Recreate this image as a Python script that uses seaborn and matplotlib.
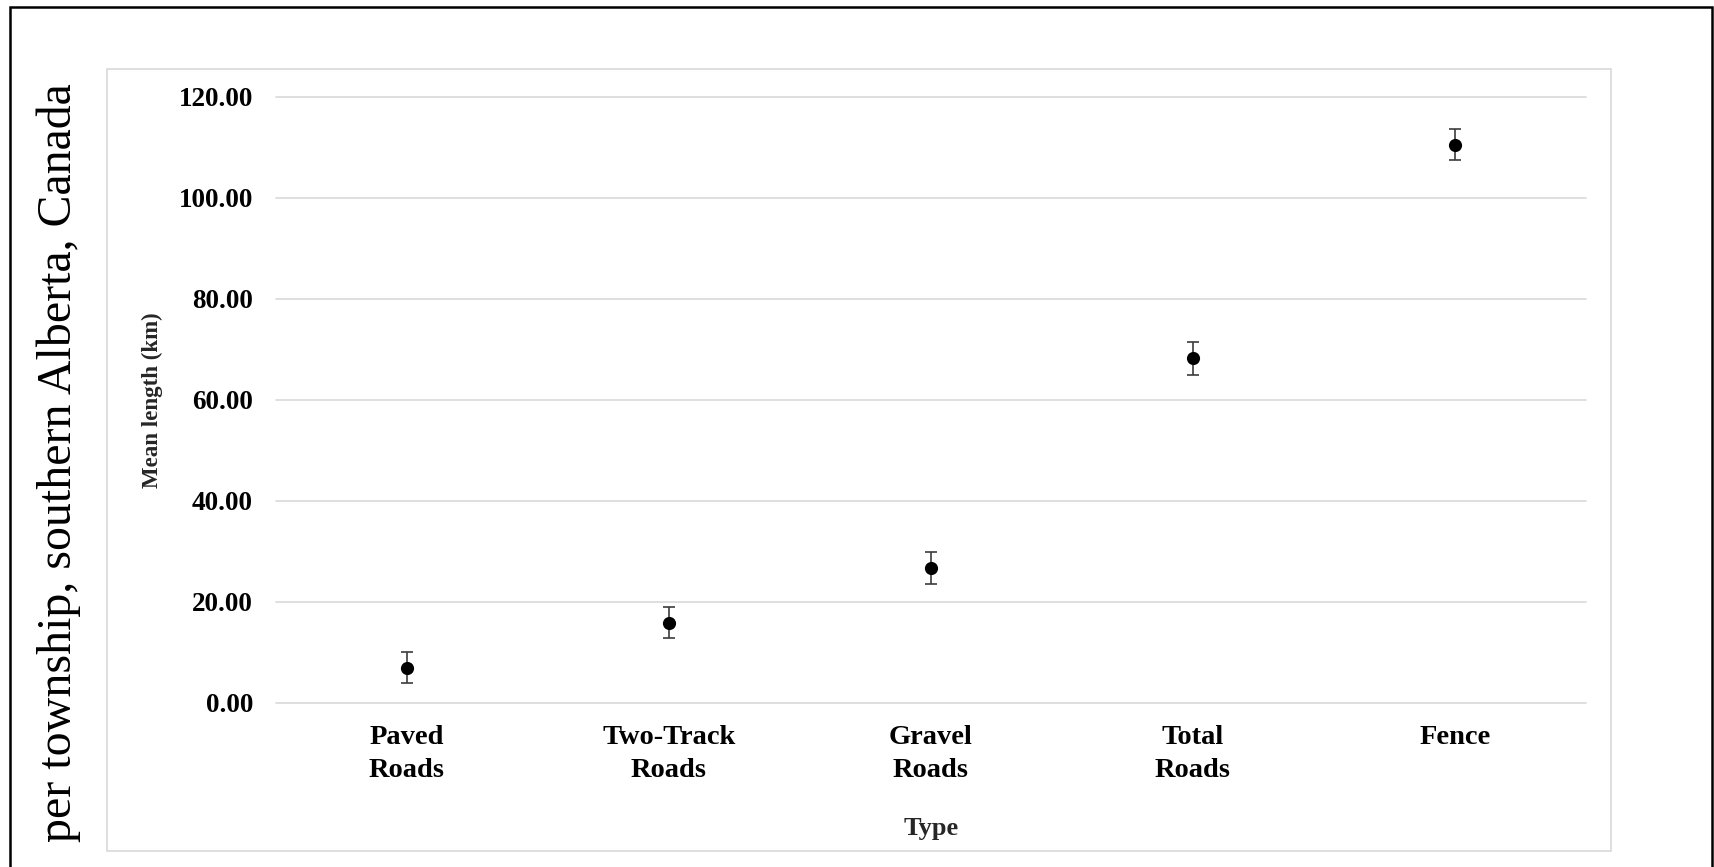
import matplotlib
matplotlib.use("Agg")
import matplotlib.pyplot as plt
from matplotlib.patches import Rectangle
import seaborn as sns

# Mean length per township by feature type, with error bars
types = ["Paved Roads", "Two-Track Roads", "Gravel Roads", "Total Roads", "Fence"]
tick_labels = ["Paved\nRoads", "Two-Track\nRoads", "Gravel\nRoads", "Total\nRoads", "Fence"]
mean_km = [7.0, 15.9, 26.7, 68.2, 110.5]
err_km = [3.1, 3.1, 3.2, 3.2, 3.1]
y_ticks = [0, 20, 40, 60, 80, 100, 120]

sns.set_theme(style="white")
plt.rcParams["font.family"] = ["Liberation Serif", "DejaVu Serif"]

W, H = 1714, 867
fig = plt.figure(figsize=(W / 100, H / 100), dpi=100)
fig.patch.set_facecolor("white")

# plot area in pixel terms
left, right, top, bottom = 276, 1586, 96.7, 703
ax = fig.add_axes([left / W, (H - bottom) / H, (right - left) / W, (bottom - top) / H])
ax.set_facecolor("white")

ax.errorbar(types, mean_km, yerr=err_km, fmt="none", ecolor="#3c3c3c",
            elinewidth=1.2, capsize=4.2, capthick=1.2, zorder=3)
sns.scatterplot(x=types, y=mean_km, ax=ax, color="black", s=90,
                edgecolor="black", linewidth=0, zorder=4)

ax.set_xlim(-0.5, len(types) - 0.5)
ax.set_ylim(0, 120)
ax.set_yticks(y_ticks)
ax.set_yticklabels([f"{v:.2f}" for v in y_ticks], fontweight="bold", fontsize=19.5)
ax.set_xticks(range(len(types)))
ax.set_xticklabels(tick_labels, fontweight="bold", fontsize=20.5,
                   linespacing=1.45, multialignment="center")
ax.tick_params(axis="y", length=0, pad=16.5, colors="black")
ax.tick_params(axis="x", length=0, pad=15.5, colors="black")

ax.yaxis.grid(True, color="#d9d9d9", linewidth=1.2)
ax.xaxis.grid(False)
for gl in ax.get_ygridlines():
    gl.set_clip_on(False)
for sp in ax.spines.values():
    sp.set_visible(False)

ax.set_ylabel("Mean length (km)", fontweight="bold", fontsize=16.5)
ax.yaxis.label.set_va("center")
ax.yaxis.set_label_coords((152 - left) / (right - left), 0.5)
ax.set_xlabel("Type", fontweight="bold", fontsize=19)
ax.xaxis.label.set_va("center")
ax.xaxis.set_label_coords(0.5, (bottom - 828) / (bottom - top))

# light chart-area frame
fig.patches.append(Rectangle((107 / W, (H - 851) / H), (1611 - 107) / W, (851 - 69) / H,
                             transform=fig.transFigure, fill=False,
                             edgecolor="#d6d6d6", linewidth=1.1, zorder=0))
# outer black border (runs past the lower edge)
fig.patches.append(Rectangle((9.5 / W, -0.2), (1711.5 - 9.5) / W, 1.2 - 6.5 / H,
                             transform=fig.transFigure, fill=False,
                             edgecolor="black", linewidth=1.8, zorder=5))

fig.text(59 / W, (H - 842) / H, "per township, southern Alberta, Canada",
         rotation=90, ha="center", va="bottom", fontsize=34.5, color="black")

fig.savefig("out.png", dpi=100, facecolor="white")
